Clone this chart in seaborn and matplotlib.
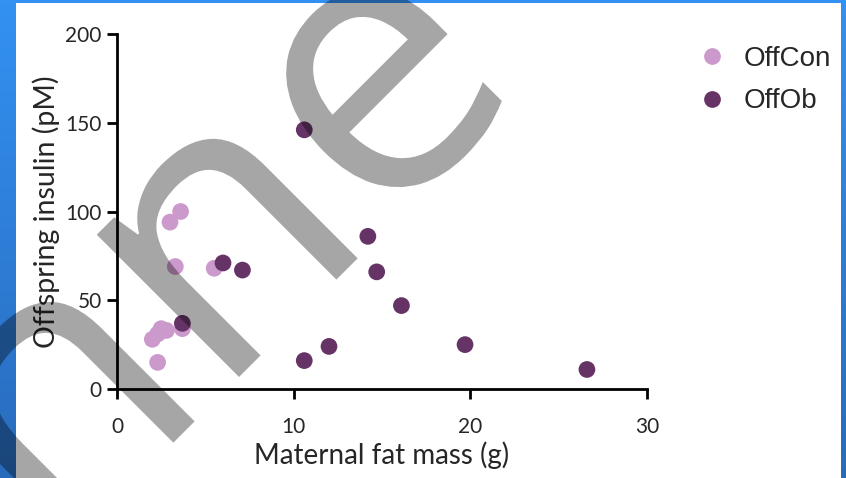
import numpy as np
import pandas as pd
import matplotlib
matplotlib.use("Agg")
import matplotlib.pyplot as plt
import seaborn as sns
from matplotlib.textpath import TextPath
from matplotlib.font_manager import FontProperties
from matplotlib.patches import PathPatch, Rectangle
from matplotlib.transforms import Affine2D

# Offspring insulin vs maternal fat mass
offcon_fat = [3.6, 3.0, 3.3, 5.5, 2.0, 2.3, 2.5, 2.8, 3.7, 2.3]
offcon_ins = [100, 94, 69, 68, 28, 31, 34, 33, 34, 15]
offob_fat = [10.6, 14.2, 14.7, 16.1, 12.0, 10.6, 19.7, 26.6, 6.0, 7.1, 3.7]
offob_ins = [146, 86, 66, 47, 24, 16, 25, 11, 71, 67, 37]
groups = ["OffCon", "OffOb"]
group_colors = ["#CC99CC", "#663366"]
x_ticks = [0, 10, 20, 30]
y_ticks = [0, 50, 100, 150, 200]

df = pd.DataFrame({
    "fat": offcon_fat + offob_fat,
    "insulin": offcon_ins + offob_ins,
    "group": [groups[0]] * len(offcon_fat) + [groups[1]] * len(offob_fat),
})

W, H = 846, 478
sns.set_style("ticks")
plt.rcParams["font.family"] = ["Lato", "DejaVu Sans"]
fig = plt.figure(figsize=(W / 100, H / 100), dpi=100)

# blue frame with a soft vertical gradient
bg = fig.add_axes([0, 0, 1, 1], zorder=-3)
grad = np.linspace(0, 1, 256)[:, None]
top = np.array([0.20, 0.57, 0.95])
bot = np.array([0.16, 0.42, 0.74])
img = top[None, None, :] * (1 - grad[:, :, None]) + bot[None, None, :] * grad[:, :, None]
bg.imshow(img, aspect="auto", extent=[0, 1, 0, 1])
bg.set_axis_off()
fig.add_artist(Rectangle((16 / W, 0), (841 - 16) / W, (H - 3) / H,
                         transform=fig.transFigure, facecolor="white",
                         edgecolor="none", zorder=-2))

ax = fig.add_axes([117 / W, 89 / H, 530 / W, 355 / H])
ax.set_facecolor("none")
sns.scatterplot(data=df, x="fat", y="insulin", hue="group", hue_order=groups,
                palette=group_colors, s=145, linewidth=0, alpha=1,
                ax=ax, clip_on=False, legend=True)

ax.set_xlim(0, 30)
ax.set_ylim(0, 200)
ax.set_xticks(x_ticks)
ax.set_yticks(y_ticks)
for side in ["top", "right"]:
    ax.spines[side].set_visible(False)
for side in ["left", "bottom"]:
    ax.spines[side].set_linewidth(2.0)
    ax.spines[side].set_color("black")
ax.tick_params(axis="both", direction="out", length=7, width=2.0,
               labelsize=15, color="black")
ax.tick_params(axis="x", pad=13.5)
ax.tick_params(axis="y", pad=4)
ax.set_xlabel("Maternal fat mass (g)", fontsize=20)
ax.set_ylabel("Offspring insulin (pM)", fontsize=20.5)
ax.xaxis.set_label_coords(0.5, -0.148)
ax.yaxis.set_label_coords(-0.107, 0.5)

handles, labels = ax.get_legend_handles_labels()
leg = ax.legend(handles, labels, loc="center left",
                bbox_to_anchor=(684 / W, (H - 80) / H),
                bbox_transform=fig.transFigure, frameon=False,
                prop={"family": "Liberation Sans", "size": 20},
                handlelength=1.0, handletextpad=0.65, labelspacing=0.6,
                markerscale=1.0, borderpad=0)

# grey lettering laid over the whole picture
fp = FontProperties(family="Open Sans")
S = 376
word = TextPath((0, 0), "nne", size=S, prop=fp)
n_only = TextPath((0, 0), "n", size=S, prop=fp)
nn = TextPath((0, 0), "nn", size=S, prop=fp)
adv = nn.get_extents().x1 - n_only.get_extents().x1
stem_c = adv + n_only.get_extents().x0 + 0.045 * S
anchor = np.array([251.0, H - 365.0])
rot = Affine2D().rotate_deg(45)
off = anchor - rot.transform_point((stem_c, 0))
tr = (Affine2D().rotate_deg(45).translate(off[0], off[1])
      .scale(1 / W, 1 / H) + fig.transFigure)
fig.add_artist(PathPatch(word, transform=tr, facecolor="black",
                         edgecolor="none", alpha=0.35, zorder=10))

fig.savefig("out.png", dpi=100)
